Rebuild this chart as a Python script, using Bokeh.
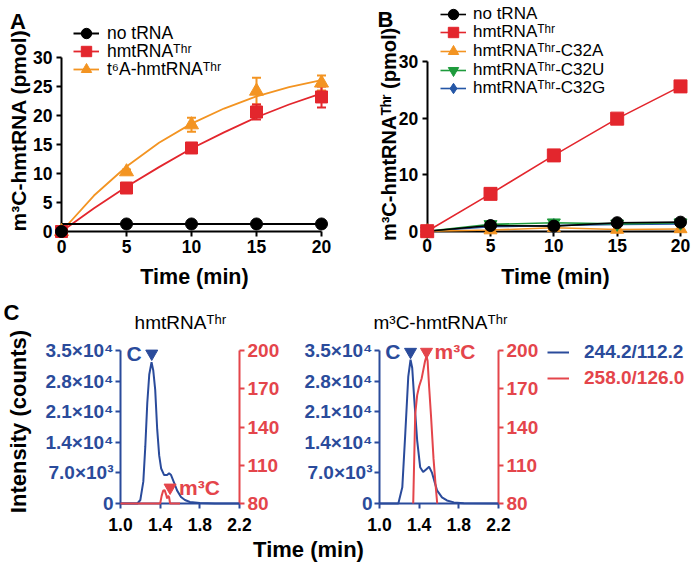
import math
from bokeh.plotting import figure
from bokeh.models import (Range1d, LinearAxis, FixedTicker, Legend, LegendItem,
                          Label, PrintfTickFormatter)
from bokeh.embed import file_html
from bokeh.resources import INLINE
from bokeh.core.properties import value

# ---------------- data ----------------
time_min = [0, 5, 10, 15, 20]

# Panel A (m3C formation, pmol)
a_none = [0, 1.3, 1.3, 1.3, 1.3]
a_hmt = [0, 7.5, 14.4, 20.6, 23.2]
a_hmt_err = [0, 0.4, 0.6, 1.3, 1.8]
a_t6a = [0, 10.3, 18.4, 24.2, 25.6]
a_t6a_err = [0, 0.4, 1.2, 2.3, 1.3]
fit_t = [0, 2.5, 5, 7.5, 10, 12.5, 15, 17.5, 20]
fit_none = [1.3, 1.3, 1.3, 1.3, 1.3, 1.3, 1.3, 1.3, 1.3]
fit_hmt = [0, 4.0, 7.7, 11.1, 14.3, 17.1, 19.7, 21.9, 23.8]
fit_t6a = [0, 6.2, 11.2, 15.3, 18.6, 21.2, 23.3, 24.9, 26.1]
a_labels = ["no tRNA", "hmtRNAᵀʰʳ", "t⁶A-hmtRNAᵀʰʳ"]
a_yticks = [0, 5, 10, 15, 20, 25, 30]

# Panel B
b_none = [0, 1.0, 0.9, 1.5, 1.6]
b_hmt = [0, 6.6, 13.4, 19.9, 25.6]
b_c32a = [0, 0.2, 0.6, 0.3, 0.4]
b_c32u = [0, 1.2, 1.5, 1.3, 1.5]
b_c32g = [0, 0.8, 1.0, 1.2, 1.3]
b_labels = ["no tRNA", "hmtRNAᵀʰʳ", "hmtRNAᵀʰʳ-C32A", "hmtRNAᵀʰʳ-C32U", "hmtRNAᵀʰʳ-C32G"]
b_yticks = [0, 10, 20, 30]
ab_xticks = [0, 5, 10, 15, 20]

# Panel C (chromatograms)
c1_t_blue = [1.00, 1.17, 1.20, 1.23, 1.25, 1.27, 1.29, 1.313, 1.33, 1.35, 1.37, 1.39,
             1.41, 1.44, 1.47, 1.49, 1.51, 1.54, 1.57, 1.61, 1.65, 1.70, 1.80, 1.95, 2.20]
c1_blue = [0, 0, 800, 5000, 13000, 23000, 29500, 32300, 30500, 26000, 17000, 11000,
           8000, 6500, 6500, 6900, 6500, 4800, 3000, 1500, 800, 350, 100, 0, 0]
c1_t_red = [1.00, 1.40, 1.415, 1.43, 1.445, 1.46, 1.47, 1.48, 1.49, 1.50, 1.60]
c1_red = [80, 80, 86, 90, 90.5, 87, 84, 86, 85, 80, 80]
c2_t_blue = [1.00, 1.19, 1.23, 1.26, 1.29, 1.313, 1.33, 1.35, 1.38, 1.41, 1.44, 1.47,
             1.50, 1.53, 1.58, 1.63, 1.68, 1.75, 1.85, 2.20]
c2_blue = [0, 0, 3700, 16000, 29000, 32900, 31000, 24000, 14400, 8300, 7200, 7800,
           8400, 7000, 3000, 1400, 700, 250, 60, 0]
c2_t_red = [1.34, 1.36, 1.38, 1.40, 1.425, 1.44, 1.46, 1.474, 1.485, 1.50, 1.52,
            1.545, 1.565, 1.582]
c2_red = [80, 150, 165, 172, 178, 184, 192, 195.5, 192, 172, 148, 115, 95, 80]
c1_peak_c = ([1.315], [34300])
c1_peak_m3c = ([1.50], [92.5])
c2_peak_c = ([1.313], [34700])
c2_peak_m3c = ([1.474], [199])
c_xticks = [1.0, 1.4, 1.8, 2.2]
c_blue_ticks = [0, 7000, 14000, 21000, 28000, 35000]
c_blue_tick_labels = ["0", "7.0×10³", "1.4×10⁴", "2.1×10⁴", "2.8×10⁴", "3.5×10⁴"]
c_red_ticks = [80, 110, 140, 170, 200]
c_legend = ["244.2/112.2", "258.0/126.0"]

# ---------------- styling / layout ----------------
W, H = 695, 566
FONT = "Liberation Sans"
BLACK, RED, ORANGE, GREEN, BLUE = "#000000", "#e3262d", "#f39422", "#1e9b3c", "#2456a6"
CBLUE, CRED = "#2a4b9b", "#e4454b"


def X(ix):
    return ix


def Y(iy):
    return H - iy


def rng(v0, p0, v1, p1, total):
    s = (p1 - p0) / (v1 - v0)
    start = v0 - p0 / s
    return Range1d(start=start, end=start + total / s)


xA = rng(0, X(61), 20, X(321), W)
yA = rng(0, Y(231), 30, Y(57), H)
xB = rng(0, X(426.7), 20, X(680), W)
yB = rng(0, Y(230.7), 30, Y(61), H)
xC1 = rng(1.0, X(120), 2.2, X(239), W)
xC2 = rng(1.0, X(379), 2.2, X(498), W)
yCb = rng(0, Y(503), 35000, Y(350), H)
yCr = rng(80, Y(503), 200, Y(350), H)

p = figure(width=W, height=H, x_range=xA, y_range=yA, x_axis_type=None, y_axis_type=None,
           toolbar_location=None, output_backend="svg", min_border=0,
           outline_line_color=None)
p.extra_x_ranges = {"xB": xB, "xC1": xC1, "xC2": xC2}
p.extra_y_ranges = {"yB": yB, "yCb": yCb, "yCr": yCr}


def add_axis(side, xr, yr, loc, bounds, ticks, color, label_color, size, standoff,
             overrides=None, formatter=None):
    ax = LinearAxis(x_range_name=xr, y_range_name=yr, fixed_location=loc, bounds=bounds,
                    ticker=FixedTicker(ticks=ticks), axis_line_color=color, axis_line_width=2,
                    major_tick_line_color=color, major_tick_line_width=2, major_tick_out=5,
                    major_tick_in=0, minor_tick_line_color=None,
                    major_label_text_color=label_color, major_label_text_font=FONT,
                    major_label_text_font_style="bold", major_label_text_font_size=size,
                    major_label_standoff=standoff, level="underlay")
    if overrides:
        ax.major_label_overrides = overrides
    if formatter is not None:
        ax.formatter = formatter
    p.add_layout(ax, side)


# axes A
add_axis("left", "default", "default", 0, (0, 30), a_yticks, BLACK, BLACK, "17.5px", 4)
add_axis("below", "default", "default", 0, (0, 20), ab_xticks, BLACK, BLACK, "17.5px", 3)
# axes B
add_axis("left", "xB", "yB", 0, (0, 30), b_yticks, BLACK, BLACK, "17.5px", 4)
add_axis("below", "xB", "yB", 0, (0, 20), ab_xticks, BLACK, BLACK, "17.5px", 3)
# axes C
blue_over = dict(zip(c_blue_ticks, c_blue_tick_labels))
for xr in ("xC1", "xC2"):
    add_axis("left", xr, "yCb", 1.0, (0, 35000), c_blue_ticks, CBLUE, CBLUE, "19px", 2,
             overrides=blue_over)
    add_axis("right", xr, "yCr", 2.2, (80, 200), c_red_ticks, CRED, CRED, "19px", 3)
    add_axis("below", xr, "yCb", 0, (1.0, 2.2), c_xticks, CBLUE, BLACK, "17.5px", 9,
             formatter=PrintfTickFormatter(format="%.1f"))


def add_legend(renderers, label, x_img, y_img, glyph_w, standoff, size, color="black",
               style="normal"):
    lg = Legend(items=[LegendItem(label=label, renderers=renderers)],
                location=(X(x_img), Y(y_img) - 14), padding=0, margin=0, spacing=0,
                glyph_width=glyph_w, glyph_height=28, label_height=28,
                label_standoff=standoff, border_line_color=None, background_fill_alpha=0,
                label_text_font=FONT, label_text_font_size=size, label_text_color=color,
                label_text_font_style=style)
    p.add_layout(lg)


# ---------------- panel A ----------------
def errbars(xs, ys, errs, color, xr, yr):
    lo = [y - e for y, e in zip(ys, errs)]
    hi = [y + e for y, e in zip(ys, errs)]
    p.segment(x0=xs, y0=lo, x1=xs, y1=hi, line_color=color, line_width=2,
              x_range_name=xr, y_range_name=yr)
    p.scatter(x=xs + xs, y=lo + hi, marker="dash", size=9, line_color=color, line_width=2,
              x_range_name=xr, y_range_name=yr)


lA_t6a = p.line(fit_t, fit_t6a, line_color=ORANGE, line_width=1.8)
lA_hmt = p.line(fit_t, fit_hmt, line_color=RED, line_width=1.8)
lA_none = p.line(fit_t, fit_none, line_color=BLACK, line_width=2)
errbars(time_min, a_t6a, a_t6a_err, ORANGE, "default", "default")
errbars(time_min, a_hmt, a_hmt_err, RED, "default", "default")
sA_t6a = p.scatter(time_min, a_t6a, marker="triangle", size=14, color=ORANGE)
sA_hmt = p.scatter(time_min, a_hmt, marker="square", size=12, color=RED)
sA_none = p.scatter(time_min, a_none, marker="circle", size=12, color=BLACK)

add_legend([lA_none, sA_none], a_labels[0], 73, 33, 26, 8, "17.5px")
add_legend([lA_hmt, sA_hmt], a_labels[1], 73, 51, 26, 8, "17.5px")
add_legend([lA_t6a, sA_t6a], a_labels[2], 73, 69, 26, 8, "17.5px")

# ---------------- panel B ----------------
kwB = dict(x_range_name="xB", y_range_name="yB")
lB_g = p.line(time_min, b_c32g, line_color=BLUE, line_width=1.6, **kwB)
sB_g = p.scatter(time_min, b_c32g, marker="diamond", size=14, color=BLUE, **kwB)
lB_a = p.line(time_min, b_c32a, line_color=ORANGE, line_width=1.6, **kwB)
sB_a = p.scatter(time_min, b_c32a, marker="triangle", size=13, color=ORANGE, **kwB)
lB_u = p.line(time_min, b_c32u, line_color=GREEN, line_width=1.6, **kwB)
sB_u = p.scatter(time_min, b_c32u, marker="inverted_triangle", size=13, color=GREEN, **kwB)
lB_n = p.line(time_min, b_none, line_color=BLACK, line_width=1.6, **kwB)
sB_n = p.scatter(time_min, b_none, marker="circle", size=12, color=BLACK, **kwB)
lB_h = p.line(time_min, b_hmt, line_color=RED, line_width=1.6, **kwB)
sB_h = p.scatter(time_min, b_hmt, marker="square", size=13, color=RED, **kwB)

b_rows = [13.5, 32, 51, 69.5, 88]
for rs, lab, yy in zip([[lB_n, sB_n], [lB_h, sB_h], [lB_a, sB_a], [lB_u, sB_u], [lB_g, sB_g]],
                       b_labels, b_rows):
    add_legend(rs, lab, 440, yy, 26, 7, "17px")

# ---------------- panel C ----------------
lC_b = lC_r = None
for xr, tb, vb, tr, vr, pc, pm, m_off in (
        ("xC1", c1_t_blue, c1_blue, c1_t_red, c1_red, c1_peak_c, c1_peak_m3c, 9),
        ("xC2", c2_t_blue, c2_blue, c2_t_red, c2_red, c2_peak_c, c2_peak_m3c, 8)):
    lb = p.line(tb, vb, line_color=CBLUE, line_width=2, x_range_name=xr, y_range_name="yCb")
    lr = p.line(tr, vr, line_color=CRED, line_width=2, x_range_name=xr, y_range_name="yCr")
    p.scatter(pc[0], pc[1], marker="inverted_triangle", size=12, color=CBLUE,
              x_range_name=xr, y_range_name="yCb")
    p.scatter(pm[0], pm[1], marker="inverted_triangle", size=12, color=CRED,
              x_range_name=xr, y_range_name="yCr")
    p.text(pc[0], pc[1], text=["C"], x_offset=-10, text_align="right",
           text_baseline="middle", text_font=value(FONT), text_font_style="bold",
           text_font_size="21px", text_color=CBLUE, x_range_name=xr, y_range_name="yCb")
    p.text(pm[0], pm[1], text=["m³C"], x_offset=m_off, text_align="left",
           text_baseline="middle", text_font=value(FONT), text_font_style="bold",
           text_font_size="21px", text_color=CRED, x_range_name=xr, y_range_name="yCr")
    lC_b, lC_r = lb, lr

add_legend([lC_b], c_legend[0], 547, 352, 22, 15, "19px", CBLUE, "bold")
add_legend([lC_r], c_legend[1], 547, 378, 22, 15, "19px", CRED, "bold")


# ---------------- texts ----------------
def add_label(text, ix, iy, size, style="bold", color="black", angle=0.0):
    p.add_layout(Label(x=X(ix), y=Y(iy), x_units="screen", y_units="screen", text=text,
                       angle=angle, text_align="center", text_baseline="middle",
                       text_font=FONT, text_font_style=style, text_font_size=size,
                       text_color=color))


add_label("A", 17.5, 20.5, "22px")
add_label("B", 385, 19, "22px")
add_label("C", 11, 312, "22px")
add_label("m³C-hmtRNA (pmol)", 18, 130, "21px", angle=math.pi / 2)
add_label("m³C-hmtRNAᵀʰʳ (pmol)", 388, 134, "20px", angle=math.pi / 2)
add_label("Time (min)", 194, 276, "21.5px")
add_label("Time (min)", 555, 276, "21.5px")
add_label("Time (min)", 308, 549, "22px")
add_label("Intensity (counts)", 18, 421, "22px", angle=math.pi / 2)
add_label("hmtRNAᵀʰʳ", 180, 322, "19px", style="normal")
add_label("m³C-hmtRNAᵀʰʳ", 440, 322, "19px", style="normal")

open("out.html", "w").write(file_html(p, INLINE))
